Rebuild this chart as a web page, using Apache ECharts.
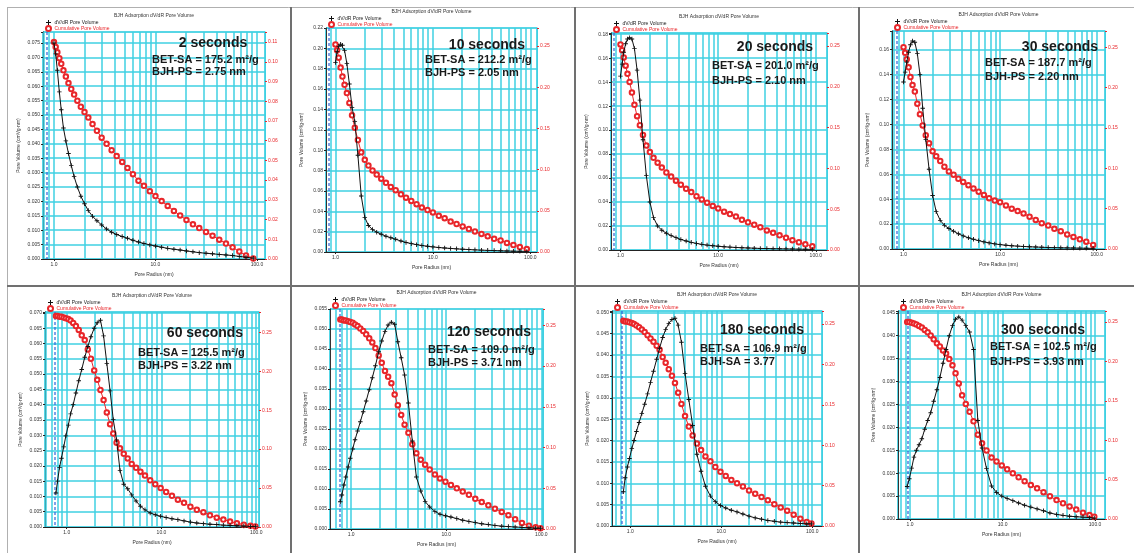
<!DOCTYPE html>
<html><head><meta charset="utf-8">
<script src="https://cdn.jsdelivr.net/npm/echarts@6/dist/echarts.min.js"></script>
<style>html,body{margin:0;padding:0;background:#fff}#chart{width:1134px;height:553px}</style>
</head><body><div id="chart"></div>
<script>
// ---------- DATA ----------
const topRadius = [1.00,1.04,1.08,1.13,1.18,1.24,1.31,1.39,1.48,1.58,1.70,1.84,2.00,2.18,2.40,2.65,2.95,3.30,3.70,4.15,4.70,5.30,6.00,6.80,7.70,8.80,10.0,11.5,13.2,15.2,17.5,20.2,23.4,27.0,31.5,36.5,42.5,49.5,57.5,67.0,78.0,92.0];
const bottomRadius = [0.77,0.80,0.84,0.88,0.93,0.98,1.04,1.10,1.17,1.25,1.34,1.44,1.55,1.67,1.80,1.95,2.10,2.27,2.45,2.65,2.87,3.10,3.36,3.65,4.00,4.40,4.85,5.40,6.00,6.70,7.60,8.60,9.80,11.2,12.9,14.9,17.3,20.2,23.6,27.7,32.5,38.3,45.0,53.0,62.5,74.0,87.0,98.0];

const dvdr2s = [.0750,.0712,.0655,.0580,.0518,.0455,.0410,.0366,.0325,.0286,.0250,.0218,.0192,.0168,.0148,.0133,.0118,.0104,.0093,.0085,.0078,.0072,.0065,.0059,.0054,.0049,.0045,.0041,.0037,.0034,.0031,.0028,.0025,.0022,.0020,.0018,.0016,.0014,.0012,.0009,.0006,.0003];
const cum2s  = [.110,.1075,.1048,.1018,.0990,.0957,.0925,.0892,.0862,.0834,.0803,.0772,.0745,.0717,.0684,.0650,.0615,.0584,.0552,.0522,.0492,.0462,.0430,.0397,.0371,.0344,.0319,.0294,.0269,.0244,.0221,.0198,.0176,.0157,.0137,.0118,.0098,.0078,.0059,.0038,.0018,.0003];
const dvdr10s = [.186,.197,.202,.204,.203,.198,.185,.165,.142,.128,.095,.055,.034,.026,.022,.0195,.0175,.0155,.014,.0125,.0108,.0094,.0082,.0072,.0064,.0056,.0050,.0044,.0039,.0035,.0031,.0027,.0024,.0021,.0018,.0016,.0014,.0012,.0010,.0008,.0007,.0006];
const cum10s  = [.252,.245,.236,.224,.213,.203,.193,.181,.166,.151,.136,.121,.112,.105,.099,.094,.089,.084,.079,.075,.070,.066,.062,.058,.054,.051,.048,.044,.041,.037,.034,.031,.028,.025,.022,.019,.016,.014,.011,.0085,.0060,.0035];
const dvdr20s = [.145,.155,.165,.172,.176,.177,.176,.168,.150,.125,.092,.062,.040,.027,.020,.0165,.014,.012,.0103,.0088,.0075,.0064,.0055,.0047,.0041,.0036,.0031,.0027,.0024,.0021,.0019,.0017,.0015,.0013,.0012,.0011,.0010,.0009,.0008,.0007,.0006,.0005];
const cum20s  = [.252,.245,.236,.226,.216,.206,.193,.178,.164,.153,.141,.128,.120,.113,.107,.101,.095,.090,.085,.080,.075,.071,.066,.062,.058,.054,.051,.047,.044,.041,.037,.034,.031,.028,.024,.021,.018,.015,.012,.0095,.0070,.0045];
const dvdr30s = [.134,.142,.150,.158,.164,.167,.166,.157,.140,.113,.088,.064,.043,.030,.023,.019,.0165,.0143,.0122,.0105,.0090,.0078,.0067,.0057,.0049,.0041,.0035,.0030,.0026,.0023,.0020,.0018,.0016,.0014,.0012,.0011,.0010,.0009,.0008,.0007,.0006,.0005];
const cum30s  = [.250,.243,.235,.225,.213,.203,.195,.180,.167,.153,.141,.131,.121,.115,.109,.102,.096,.092,.087,.083,.079,.075,.071,.067,.063,.060,.058,.054,.050,.047,.044,.040,.036,.032,.029,.025,.022,.018,.015,.012,.009,.005];
const dvdr60s = [.0111,.0150,.0195,.0225,.0262,.0298,.0333,.0370,.0400,.0438,.0478,.0515,.0555,.0590,.0622,.0650,.0668,.0676,.0625,.0535,.0445,.0351,.0285,.0185,.0140,.0125,.0105,.0085,.0068,.0056,.0046,.0040,.0035,.0031,.0027,.0024,.0020,.0016,.0013,.0011,.0009,.0008,.0006,.0005,.0004,.0003,.0002,.0002];
const cum60s  = [.271,.271,.270,.270,.269,.268,.267,.265,.262,.258,.253,.246,.240,.228,.216,.201,.189,.176,.163,.147,.132,.120,.108,.101,.094,.088,.081,.076,.071,.066,.060,.055,.050,.045,.040,.035,.031,.026,.022,.019,.015,.012,.0095,.0070,.0048,.0030,.0015,.0008];
const dvdr120s = [.0068,.0085,.0110,.0130,.0155,.0177,.0200,.0223,.0245,.0268,.0293,.0320,.0348,.0378,.0408,.0443,.0470,.0494,.0510,.0517,.0512,.0468,.0428,.0385,.0315,.0220,.0130,.0095,.0069,.0055,.0044,.0037,.0033,.0030,.0026,.0022,.0019,.0016,.0013,.0011,.0009,.0007,.0006,.0005,.0004,.0003,.0002,.0002];
const cum120s  = [.257,.257,.256,.256,.255,.254,.253,.251,.249,.246,.243,.239,.234,.229,.222,.213,.204,.194,.187,.179,.165,.152,.140,.128,.118,.104,.093,.085,.079,.073,.067,.062,.058,.054,.050,.046,.042,.037,.033,.029,.025,.021,.017,.012,.0075,.0040,.0020,.0010];
const dvdr180s = [null,null,.0080,.0113,.0138,.0158,.0181,.0200,.0221,.0242,.0263,.0285,.0309,.0336,.0362,.0390,.0416,.0441,.0460,.0474,.0483,.0486,.0470,.0430,.0357,.0296,.0235,.0168,.0128,.0093,.0070,.0057,.0048,.0042,.0037,.0033,.0028,.0023,.0019,.0016,.0013,.0011,.0009,.0008,.0007,.0006,.0005,.0005];
const cum180s  = [null,null,.254,.253,.253,.252,.251,.250,.248,.246,.243,.240,.236,.232,.228,.223,.218,.209,.202,.194,.186,.177,.165,.151,.136,.123,.112,.102,.094,.086,.080,.073,.067,.062,.057,.053,.049,.044,.040,.036,.032,.027,.023,.019,.014,.009,.005,.003];
const dvdr300s = [null,null,null,null,.0071,.0088,.0111,.0135,.0150,.0162,.0175,.0196,.0215,.0232,.0257,.0282,.0309,.0340,.0370,.0400,.0422,.0436,.0441,.0434,.0422,.0408,.0370,.0215,.0155,.0110,.0072,.0058,.0050,.0045,.0040,.0035,.0030,.0026,.0022,.0018,.0013,.0010,.0008,.0006,.0005,.0004,.0003,.0002];
const cum300s  = [null,null,null,null,.250,.250,.249,.248,.247,.245,.243,.240,.237,.233,.228,.223,.219,.214,.210,.203,.195,.185,.172,.157,.146,.136,.124,.107,.096,.087,.078,.073,.068,.063,.058,.053,.048,.043,.039,.034,.029,.024,.020,.016,.012,.008,.005,.003];

const timeLabels = ['2 seconds','10 seconds','20 seconds','30 seconds','60 seconds','120 seconds','180 seconds','300 seconds'];
const betLabels = ['BET-SA = 175.2 m²/g','BET-SA = 212.2 m²/g','BET-SA = 201.0 m²/g','BET-SA = 187.7 m²/g','BET-SA = 125.5 m²/g','BET-SA = 109.0 m²/g','BET-SA = 106.9 m²/g','BET-SA = 102.5 m²/g'];
const bjhLabels = ['BJH-PS = 2.75 nm','BJH-PS = 2.05 nm','BJH-PS = 2.10 nm','BJH-PS = 2.20 nm','BJH-PS = 3.22 nm','BJH-PS = 3.71 nm','BJH-SA = 3.77','BJH-PS = 3.93 nm'];
const chartTitle = 'BJH Adsorption dV/dR Pore Volume';
const seriesNames = ['dV/dR Pore Volume','Cumulative Pore Volume'];
const xName = 'Pore Radius (nm)';
const yName = 'Pore Volume (cm³/g·nm)';
const minorRadii = [0.6,0.7,0.8,0.9,2,3,4,5,6,7,8,9,20,30,40,50,60,70,80,90];
const lowestRadius = [0.86,0.86,0.86,0.85,0.75,0.77,0.81,0.94];

// axis scales
const xMin = [0.78,0.80,0.80,0.76,0.59,0.60,0.63,0.74];
const xMax = [120,117,130,122,107,104,128,128];
const leftMax = [0.0788,0.22,0.181,0.175,0.0703,0.055,0.0503,0.0454];
const leftStep = [0.005,0.02,0.02,0.02,0.005,0.005,0.005,0.005];
const leftDec = [3,2,2,2,3,3,3,3];
const rightMax = [0.1151,0.272,0.266,0.27,0.276,0.27,0.266,0.264];
const rightStep = [0.01,0.05,0.05,0.05,0.05,0.05,0.05,0.05];

// ---------- LAYOUT ----------
const grids = [
  {left:43,top:32,width:222,height:227},
  {left:326,top:28,width:211,height:224},
  {left:611,top:33,width:216,height:217},
  {left:892,top:31,width:213,height:218},
  {left:45,top:312,width:214,height:215},
  {left:330,top:309,width:213,height:220},
  {left:612,top:311,width:210,height:215},
  {left:898,top:311,width:207,height:208}
];
const annoPos = [
  {cx:213,cy:43,lx:152,y1:60,y2:72},
  {cx:487,cy:45,lx:425,y1:60,y2:73},
  {cx:775,cy:47,lx:712,y1:66,y2:81},
  {cx:1060,cy:47,lx:985,y1:63,y2:77},
  {cx:205,cy:333,lx:138,y1:353,y2:366},
  {cx:489,cy:332,lx:428,y1:350,y2:363},
  {cx:762,cy:330,lx:700,y1:349,y2:362},
  {cx:1043,cy:330,lx:990,y1:347,y2:362}
];

const panelData = [
  [topRadius,dvdr2s,cum2s],[topRadius,dvdr10s,cum10s],[topRadius,dvdr20s,cum20s],[topRadius,dvdr30s,cum30s],
  [bottomRadius,dvdr60s,cum60s],[bottomRadius,dvdr120s,cum120s],[bottomRadius,dvdr180s,cum180s],[bottomRadius,dvdr300s,cum300s]
];

const CYAN = '#3fd0e2', RED = '#e8262a', BLACK = '#111';
const FONT = "'Liberation Sans', Arial, sans-serif";
const PLUS = 'path://M4,0H6V4H10V6H6V10H4V6H0V4H4Z';

function pairs(r, v) { const out = []; r.forEach((x, k) => { if (v[k] !== null) out.push([x, v[k]]); }); return out; }
function stepFmt(step, dec) {
  return v => { const q = v / step; return Math.abs(q - Math.round(q)) < 1e-6 ? v.toFixed(dec) : ''; };
}

const option = {
  animation: false,
  backgroundColor: '#fff',
  textStyle: { fontFamily: FONT },
  grid: [], xAxis: [], yAxis: [], series: [], legend: [], graphic: []
};

grids.forEach((g, i) => {
  option.grid.push({ left: g.left, top: g.top, width: g.width, height: g.height, show: true, borderColor: CYAN, borderWidth: 1, backgroundColor: '#fff' });
  option.xAxis.push({
    type: 'log', logBase: 10, gridIndex: i, min: xMin[i], max: xMax[i],
    axisLine: { show: true, lineStyle: { color: '#222', width: 1 } },
    axisTick: { show: true, length: 2, lineStyle: { color: '#222' } },
    axisLabel: { fontSize: 5, color: '#333', margin: 3, showMinLabel: false, showMaxLabel: false, formatter: v => (+v).toFixed(1) },
    splitLine: { show: true, lineStyle: { color: CYAN, width: 1.5 } },
    name: xName, nameLocation: 'middle', nameGap: 13, nameTextStyle: { fontSize: 5, color: '#333' }
  });
  option.yAxis.push({
    type: 'value', gridIndex: i, position: 'left', min: 0, max: leftMax[i], interval: leftStep[i],
    axisLine: { show: true, lineStyle: { color: '#333', width: 1 } },
    axisTick: { show: true, length: 2, lineStyle: { color: '#222' } },
    axisLabel: { fontSize: 5, color: '#333', margin: 3, formatter: stepFmt(leftStep[i], leftDec[i]) },
    splitLine: { show: true, lineStyle: { color: CYAN, width: 1.5 } },
    name: yName, nameLocation: 'middle', nameGap: 22, nameRotate: 90, nameTextStyle: { fontSize: 5, color: '#333' }
  });
  option.yAxis.push({
    type: 'value', gridIndex: i, position: 'right', min: 0, max: rightMax[i], interval: rightStep[i],
    axisLine: { show: true, lineStyle: { color: CYAN, width: 1 } },
    axisTick: { show: true, length: 2, lineStyle: { color: RED } },
    axisLabel: { fontSize: 5, color: RED, margin: 3, formatter: stepFmt(rightStep[i], 2) },
    splitLine: { show: false }
  });

  const [radius, dv, cum] = panelData[i];
  // minor vertical gridlines at log positions
  option.series.push({
    type: 'custom', xAxisIndex: i, yAxisIndex: 2 * i, silent: true, z: 1,
    data: minorRadii.filter(r => r > xMin[i] && r < xMax[i]).map(r => [r, 0]),
    renderItem: (params, api) => {
      const x = Math.round(api.coord([api.value(0), 0])[0]);
      const cs = params.coordSys;
      return { type: 'line', shape: { x1: x, y1: cs.y, x2: x, y2: cs.y + cs.height }, style: { stroke: CYAN, lineWidth: 1.5 } };
    }
  });
  // dashed line at lowest pore radius
  option.series.push({
    type: 'custom', xAxisIndex: i, yAxisIndex: 2 * i, silent: true, z: 2,
    data: [[lowestRadius[i], 0]],
    renderItem: (params, api) => {
      const x = Math.round(api.coord([api.value(0), 0])[0]);
      const cs = params.coordSys;
      return { type: 'line', shape: { x1: x, y1: cs.y, x2: x, y2: cs.y + cs.height }, style: { stroke: '#3060d8', lineWidth: 1.2, lineDash: [3, 2] } };
    }
  });
  option.series.push({
    name: seriesNames[1], type: 'line', xAxisIndex: i, yAxisIndex: 2 * i + 1, z: 3,
    data: pairs(radius, cum), symbol: 'emptyCircle', symbolSize: 4.5,
    lineStyle: { color: RED, width: 1 }, itemStyle: { color: RED, borderColor: RED, borderWidth: 1 }
  });
  option.series.push({
    name: seriesNames[0], type: 'line', xAxisIndex: i, yAxisIndex: 2 * i, z: 4,
    data: pairs(radius, dv), symbol: PLUS, symbolSize: 4.5,
    lineStyle: { color: BLACK, width: 1 }, itemStyle: { color: BLACK }
  });

  option.legend.push({
    orient: 'vertical', left: g.left + 2, top: g.top - 12, padding: 0, itemGap: 0,
    itemWidth: 6, itemHeight: 5, selectedMode: false,
    textStyle: { fontSize: 5, padding: [0, 0, 0, -2] },
    data: [
      { name: seriesNames[0], icon: PLUS, itemStyle: { color: BLACK }, textStyle: { color: '#222' } },
      { name: seriesNames[1], icon: 'emptyCircle', textStyle: { color: RED } }
    ]
  });

  option.graphic.push({ type: 'text', z: 50, x: g.left + g.width / 2, y: g.top - 16,
    style: { text: chartTitle, fontSize: 5, fontFamily: FONT, fill: '#333', align: 'center', verticalAlign: 'middle' } });
  const a = annoPos[i];
  option.graphic.push({ type: 'text', z: 50, x: a.cx, y: a.cy,
    style: { text: timeLabels[i], fontSize: 14, fontWeight: 'bold', fontFamily: FONT, fill: '#1a1a1a', align: 'center', verticalAlign: 'middle' } });
  option.graphic.push({ type: 'text', z: 50, x: a.lx, y: a.y1,
    style: { text: betLabels[i], fontSize: 11, fontWeight: 'bold', fontFamily: FONT, fill: '#1a1a1a', align: 'left', verticalAlign: 'middle' } });
  option.graphic.push({ type: 'text', z: 50, x: a.lx, y: a.y2,
    style: { text: bjhLabels[i], fontSize: 11, fontWeight: 'bold', fontFamily: FONT, fill: '#1a1a1a', align: 'left', verticalAlign: 'middle' } });
});

// panel frames / separators
const sep = (x1, y1, x2, y2, c, w) => ({ type: 'line', z: 60, shape: { x1, y1, x2, y2 }, style: { stroke: c, lineWidth: w } });
option.graphic.push(
  sep(7, 7.5, 1134, 7.5, '#b0b0b0', 1),
  sep(7.5, 7, 7.5, 553, '#b0b0b0', 1),
  sep(291, 7, 291, 553, '#707070', 2),
  sep(575, 7, 575, 553, '#707070', 2),
  sep(859, 7, 859, 553, '#707070', 2),
  sep(7, 286, 1134, 286, '#707070', 2)
);

const chart = echarts.init(document.getElementById('chart'), null, { renderer: 'canvas' });
chart.setOption(option);
</script></body></html>
